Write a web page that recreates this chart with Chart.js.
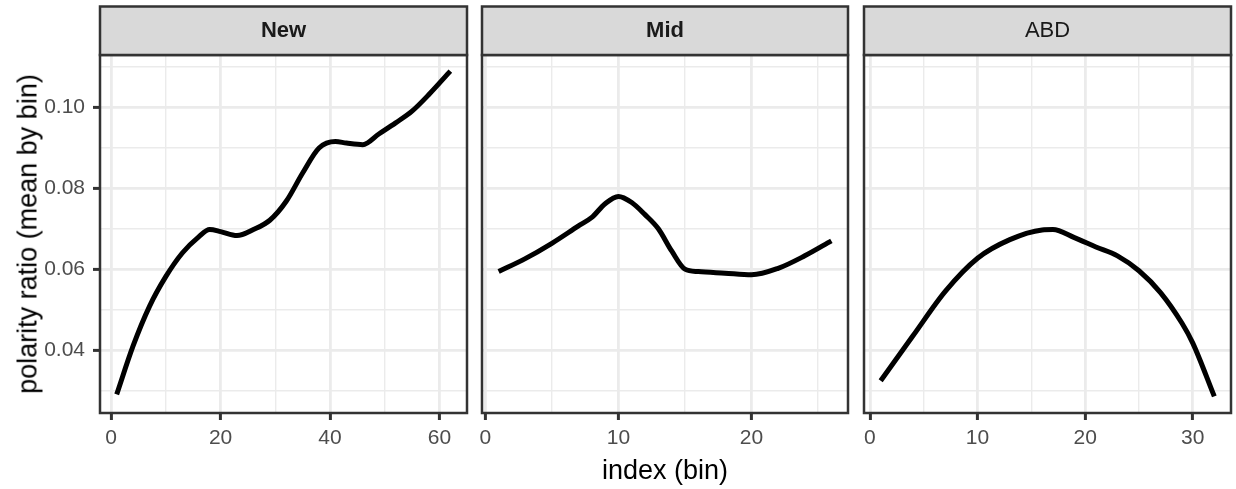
<!DOCTYPE html>
<html>
<head>
<meta charset="utf-8">
<script src="https://cdn.jsdelivr.net/npm/chart.js@4.4.1/dist/chart.umd.min.js"></script>
<style>
  body { margin: 0; background: #fff; }
  #wrap { position: relative; width: 1236px; height: 489px; overflow: hidden; background: #fff;
          font-family: 'Liberation Sans', Arial, sans-serif; }
  canvas { position: absolute; top: 0; }
  .ytitle { position: absolute; left: 28px; top: 234px; transform: translate(-50%, -50%) rotate(-90deg);
            font-size: 27px; white-space: nowrap; color: #000; }
  .xtitle { position: absolute; left: 665px; top: 470px; transform: translate(-50%, -50%);
            font-size: 27px; white-space: nowrap; color: #000; }
</style>
</head>
<body>
<div id="wrap">
  <canvas id="pNew" width="470" height="489" style="left:0px"></canvas>
  <canvas id="pMid" width="380" height="489" style="left:470px"></canvas>
  <canvas id="pAbd" width="386" height="489" style="left:850px"></canvas>
  <div class="ytitle">polarity ratio (mean by bin)</div>
  <div class="xtitle">index (bin)</div>
</div>
<script>
// data (smoothed curves, one per facet)
const newX = [1, 4, 7, 10, 13, 16, 18, 20, 23, 26, 29, 32, 35, 38, 41, 43, 46, 49, 52, 55, 58, 62];
const newY = [0.0290, 0.0410, 0.0508, 0.0582, 0.0640, 0.0680, 0.0698, 0.0693, 0.0683, 0.0698, 0.0721,
              0.0768, 0.0838, 0.0900, 0.0916, 0.0912, 0.0908, 0.0935, 0.0962, 0.0991, 0.1031, 0.1090];

const midX = [1, 3, 5, 7, 8, 9, 10, 11, 12, 13, 14, 15, 16, 18, 20, 22, 24, 26];
const midY = [0.0594, 0.0626, 0.0664, 0.0707, 0.0728, 0.0762, 0.0780, 0.0765, 0.0735, 0.0700, 0.0645,
              0.0600, 0.0594, 0.0590, 0.0586, 0.0602, 0.0633, 0.0670];

const abdX = [1, 4, 7, 10, 13, 16, 17, 19, 21, 23, 25, 27, 29, 30, 32];
const abdY = [0.0324, 0.0435, 0.0545, 0.0627, 0.0673, 0.0697, 0.0698, 0.0678, 0.0655, 0.0633, 0.0596,
              0.0542, 0.0466, 0.0417, 0.0285];

const yTicks = [0.03, 0.04, 0.05, 0.06, 0.07, 0.08, 0.09, 0.10, 0.11];
const yMajor = [0.04, 0.06, 0.08, 0.10];
const newTicks = [0, 10, 20, 30, 40, 50, 60];
const newMajor = [0, 20, 40, 60];
const midTicks = [0, 5, 10, 15, 20, 25];
const midMajor = [0, 10, 20];
const abdTicks = [0, 5, 10, 15, 20, 25, 30];
const abdMajor = [0, 10, 20, 30];

const FONT = "'Liberation Sans', Arial, sans-serif";
const has = (arr, v) => arr.some(m => Math.abs(m - v) < 1e-9);

const stripPlugin = {
    id: 'strip',
    afterDraw(chart, args, opts) {
        const ctx = chart.ctx;
        const a = chart.chartArea;
        ctx.save();
        // panel border
        ctx.strokeStyle = '#333333';
        ctx.lineWidth = 2.5;
        ctx.strokeRect(a.left, a.top, a.right - a.left, a.bottom - a.top);
        // strip
        ctx.fillStyle = '#d9d9d9';
        ctx.fillRect(a.left, 6.5, a.right - a.left, a.top - 6.5);
        ctx.strokeRect(a.left, 6.5, a.right - a.left, a.top - 6.5);
        ctx.fillStyle = '#1a1a1a';
        ctx.font = (opts.bold ? 'bold ' : '') + '22px ' + FONT;
        ctx.textAlign = 'center';
        ctx.textBaseline = 'alphabetic';
        ctx.fillText(opts.text, (a.left + a.right) / 2, 36.5);
        ctx.restore();
    }
};

function makePanel(id, p) {
    const points = p.xs.map((x, i) => ({ x: x, y: p.ys[i] }));
    return new Chart(document.getElementById(id), {
        type: 'line',
        data: {
            datasets: [{
                data: points,
                borderColor: '#000000',
                borderWidth: 5,
                pointRadius: 0,
                fill: false,
                cubicInterpolationMode: 'monotone'
            }]
        },
        options: {
            responsive: false,
            animation: false,
            events: [],
            layout: { padding: { left: 0, right: p.padRight, top: 55, bottom: 0 } },
            plugins: {
                legend: { display: false },
                tooltip: { enabled: false },
                strip: { text: p.label, bold: p.bold }
            },
            scales: {
                x: {
                    type: 'linear',
                    min: p.xMin,
                    max: p.xMax,
                    afterBuildTicks: s => { s.ticks = p.xTicks.map(v => ({ value: v })); },
                    afterFit: s => { s.height = 76; },
                    border: { display: false },
                    grid: {
                        color: '#ebebeb',
                        lineWidth: c => (c.tick && has(p.xMajor, c.tick.value)) ? 2.8 : 1.4,
                        drawTicks: true,
                        tickLength: 7,
                        tickWidth: 3,
                        tickColor: c => (c.tick && has(p.xMajor, c.tick.value)) ? '#333333' : 'rgba(0,0,0,0)'
                    },
                    ticks: {
                        autoSkip: false,
                        maxRotation: 0,
                        minRotation: 0,
                        padding: 6,
                        color: '#4d4d4d',
                        font: { family: FONT, size: 21 },
                        callback: v => has(p.xMajor, v) ? String(v) : ''
                    }
                },
                y: {
                    type: 'linear',
                    min: 0.0244,
                    max: 0.1130,
                    afterBuildTicks: s => { s.ticks = yTicks.map(v => ({ value: v })); },
                    afterFit: s => { s.width = p.yWidth; },
                    border: { display: false },
                    grid: {
                        color: '#ebebeb',
                        lineWidth: c => (c.tick && has(yMajor, c.tick.value)) ? 2.8 : 1.4,
                        drawTicks: p.showY,
                        tickLength: 7,
                        tickWidth: 3,
                        tickColor: c => (c.tick && has(yMajor, c.tick.value)) ? '#333333' : 'rgba(0,0,0,0)'
                    },
                    ticks: {
                        display: p.showY,
                        autoSkip: false,
                        padding: 8,
                        color: '#4d4d4d',
                        font: { family: FONT, size: 21 },
                        callback: v => has(yMajor, v) ? v.toFixed(2) : ''
                    }
                }
            }
        },
        plugins: [stripPlugin]
    });
}

makePanel('pNew', { xs: newX, ys: newY, xMin: -2.05, xMax: 65.05, xTicks: newTicks, xMajor: newMajor,
                    label: 'New', bold: true, showY: true, yWidth: 100, padRight: 3 });
makePanel('pMid', { xs: midX, ys: midY, xMin: -0.25, xMax: 27.25, xTicks: midTicks, xMajor: midMajor,
                    label: 'Mid', bold: true, showY: false, yWidth: 12, padRight: 2 });
makePanel('pAbd', { xs: abdX, ys: abdY, xMin: -0.55, xMax: 33.55, xTicks: abdTicks, xMajor: abdMajor,
                    label: 'ABD', bold: false, showY: false, yWidth: 14, padRight: 5 });
</script>
</body>
</html>
